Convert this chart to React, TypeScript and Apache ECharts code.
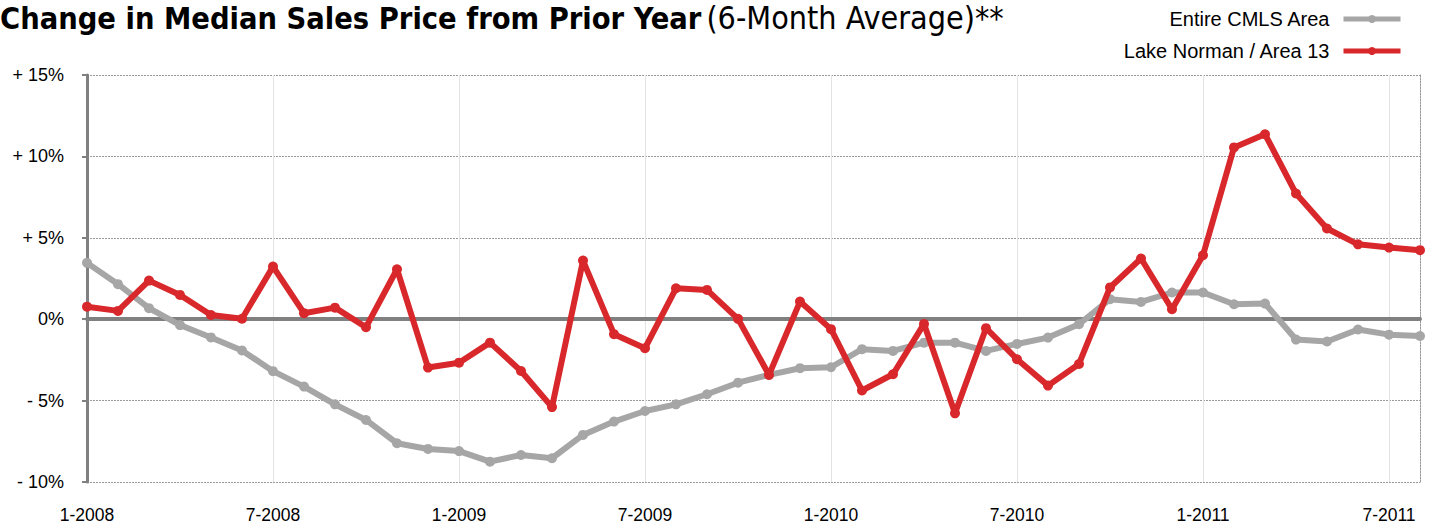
import React, { useEffect, useRef } from "react";
import * as echarts from "echarts";

// Monthly periods, Jan 2008 – Aug 2011
const months: string[] = [];
for (let y = 2008; y <= 2011; y++) {
  for (let m = 1; m <= 12; m++) {
    if (y === 2011 && m > 8) break;
    months.push(`${m}-${y}`);
  }
}

// Year-over-year change in median sales price, 6-month average (%)
const entireCmls = [
  3.46, 2.15, 0.68, -0.36, -1.12, -1.92, -3.19, -4.14, -5.23, -6.19,
  -7.62, -7.97, -8.1, -8.75, -8.34, -8.54, -7.11, -6.29, -5.64, -5.23,
  -4.61, -3.9, -3.42, -3.01, -2.95, -1.84, -1.95, -1.44, -1.44, -1.95,
  -1.52, -1.13, -0.31, 1.23, 1.06, 1.64, 1.64, 0.92, 0.96, -1.25,
  -1.37, -0.63, -0.95, -1.03,
];
const lakeNorman = [
  0.77, 0.51, 2.37, 1.49, 0.26, 0.03, 3.23, 0.37, 0.71, -0.49,
  3.07, -2.97, -2.67, -1.44, -3.18, -5.4, 3.6, -0.92, -1.78, 1.9,
  1.8, 0.02, -3.42, 1.08, -0.61, -4.38, -3.38, -0.29, -5.78, -0.55,
  -2.46, -4.08, -2.75, 1.95, 3.73, 0.61, 3.93, 10.55, 11.36, 7.72,
  5.57, 4.6, 4.4, 4.24,
];

const SANS = "'Liberation Sans', Arial, Helvetica, sans-serif";
const NARROW = "'Liberation Sans Narrow', 'DejaVu Sans Condensed', 'Liberation Sans', sans-serif";
const GRAY = "#a6a6a6";
const RED = "#d8282b";

function pctLabel(v: number): string {
  if (v > 0) return `+ ${v}%`;
  if (v < 0) return `- ${Math.abs(v)}%`;
  return "0%";
}

export default function App() {
  const ref = useRef<HTMLDivElement>(null);

  useEffect(() => {
    if (!ref.current) return;
    const chart = echarts.init(ref.current, undefined, { renderer: "svg" });
    chart.setOption({
      animation: false,
      backgroundColor: "#ffffff",
      title: {
        left: 0,
        top: 2,
        padding: 0,
        text: "{b|Change in Median Sales Price from Prior Year} {r|(6-Month Average)**}",
        textStyle: {
          rich: {
            b: { fontFamily: NARROW, fontWeight: "bold", fontSize: 30.5, color: "#000" },
            r: { fontFamily: NARROW, fontWeight: "normal", fontSize: 32, color: "#000" },
          },
        },
      },
      legend: {
        orient: "vertical",
        right: 21,
        top: 4,
        align: "right",
        itemWidth: 57,
        itemHeight: 10,
        itemGap: 12,
        lineStyle: { width: 5 },
        textStyle: { fontFamily: SANS, fontSize: 20, color: "#000", padding: [0, 9, 0, 0] },
        data: ["Entire CMLS Area", "Lake Norman / Area 13"],
      },
      grid: { left: 87, right: 9, top: 75, bottom: 42, containLabel: false },
      xAxis: [
        {
          type: "category",
          data: months,
          boundaryGap: false,
          axisLine: { show: false },
          axisTick: { show: false },
          axisLabel: {
            interval: 5,
            margin: 24,
            fontFamily: SANS,
            fontSize: 17.5,
            color: "#000",
          },
          splitLine: {
            show: true,
            interval: 5,
            lineStyle: { color: "#e3e3e3", width: 1 },
          },
        },
        {
          // zero baseline
          type: "category",
          data: months,
          boundaryGap: false,
          position: "bottom",
          axisLine: { show: true, onZero: true, lineStyle: { color: "#808080", width: 4 } },
          axisTick: { show: false },
          axisLabel: { show: false },
          splitLine: { show: false },
        },
      ],
      yAxis: [
        {
          type: "value",
          min: -10,
          max: 15,
          interval: 5,
          axisLine: { show: true, lineStyle: { color: "#808080", width: 3 } },
          axisTick: { show: true, length: 5, lineStyle: { color: "#808080", width: 2 } },
          axisLabel: {
            formatter: pctLabel,
            margin: 23,
            fontFamily: SANS,
            fontSize: 18,
            color: "#000",
          },
          splitLine: { show: true, lineStyle: { color: "#9a9a9a", width: 1, type: [2, 1] } },
        },
        {
          type: "value",
          min: -10,
          max: 15,
          interval: 5,
          position: "right",
          axisLine: { show: true, lineStyle: { color: "#9a9a9a", width: 1, type: [2, 1] } },
          axisTick: { show: false },
          axisLabel: { show: false },
          splitLine: { show: false },
        },
      ],
      series: [
        {
          name: "Entire CMLS Area",
          type: "line",
          data: entireCmls,
          color: GRAY,
          symbol: "circle",
          symbolSize: 10,
          lineStyle: { width: 6, color: GRAY },
          itemStyle: { color: GRAY },
          z: 3,
        },
        {
          name: "Lake Norman / Area 13",
          type: "line",
          data: lakeNorman,
          color: RED,
          symbol: "circle",
          symbolSize: 10,
          lineStyle: { width: 6, color: RED },
          itemStyle: { color: RED },
          z: 4,
        },
      ],
    });
    return () => chart.dispose();
  }, []);

  return (
    <div
      ref={ref}
      style={{ position: "absolute", left: 0, top: 0, width: 1429, height: 524 }}
    />
  );
}
